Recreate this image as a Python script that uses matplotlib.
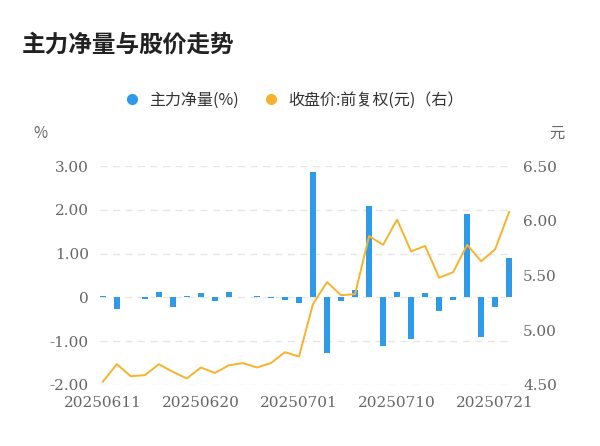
import matplotlib
matplotlib.use("Agg")
import matplotlib.pyplot as plt
from matplotlib.lines import Line2D

plt.rcParams["font.family"] = ["Noto Sans CJK SC", "Noto Sans CJK JP", "Noto Sans CJK TC", "Noto Sans CJK KR", "DejaVu Sans"]

dates = ["20250611","20250612","20250613","20250616","20250617","20250618","20250619","20250620",
         "20250623","20250624","20250625","20250626","20250627","20250630","20250701","20250702",
         "20250703","20250704","20250707","20250708","20250709","20250710","20250711","20250714",
         "20250715","20250716","20250717","20250718","20250721","20250722"]
net_flow = [0.03,-0.26,0.02,-0.03,0.12,-0.22,0.03,0.1,-0.08,0.13,0.01,0.03,-0.01,-0.05,-0.12,
            2.87,-1.27,-0.08,0.17,2.08,-1.1,0.13,-0.95,0.11,-0.32,-0.05,1.9,-0.9,-0.22,0.89]
price = [4.53,4.69,4.58,4.59,4.69,4.62,4.56,4.66,4.61,4.68,4.70,4.66,4.70,4.80,4.76,
         5.24,5.44,5.32,5.33,5.86,5.78,6.01,5.72,5.77,5.48,5.53,5.78,5.63,5.74,6.08]
left_ticks = [3.0,2.0,1.0,0.0,-1.0,-2.0]
left_labels = ["3.00","2.00","1.00","0","-1.00","-2.00"]
right_ticks = [6.5,6.0,5.5,5.0,4.5]
right_labels = ["6.50","6.00","5.50","5.00","4.50"]
tick_idx = [0,7,14,21,28]

blue = "#2f9ae8"; gold = "#f7b32b"; gray = "#666666"
fig = plt.figure(figsize=(6.0,4.46), dpi=100)
ax = fig.add_axes([100/600, 61/446, 412/600, 219/446])
x = list(range(len(dates)))
ax.bar(x, net_flow, width=0.42, color=blue, zorder=3)
ax.set_xlim(-0.2, 29.2)
ax.set_ylim(-2, 3)
ax.set_yticks(left_ticks); ax.set_yticklabels(left_labels, color=gray, fontsize=11, fontfamily="DejaVu Serif")
ax.set_xticks(tick_idx); ax.set_xticklabels([dates[i] for i in tick_idx], color=gray, fontsize=11, fontfamily="DejaVu Serif")
for t in left_ticks:
    ax.axhline(t, color="#e6e6e6", lw=1, ls=(0,(5,4)), zorder=0)
for s in ax.spines.values(): s.set_visible(False)
ax.tick_params(length=0, pad=8)

ax2 = ax.twinx()
ax2.plot(x, price, color=gold, lw=1.4, zorder=4)
ax2.set_ylim(4.5, 6.5)
ax2.set_yticks(right_ticks); ax2.set_yticklabels(right_labels, color=gray, fontsize=11, fontfamily="DejaVu Serif")
for s in ax2.spines.values(): s.set_visible(False)
ax2.tick_params(length=0, pad=8)

fig.text(22/600, 1-45/446, "主力净量与股价走势", fontsize=17, fontweight="bold", va="center", color="#222222")
fig.text(40/600, 1-133/446, "%", fontsize=11, color=gray, va="center", ha="center")
fig.text(557/600, 1-133/446, "元", fontsize=11, color=gray, va="center", ha="center")
handles = [Line2D([],[],marker="o",ls="",color=blue,markersize=7),
           Line2D([],[],marker="o",ls="",color=gold,markersize=7)]
fig.legend(handles, ["主力净量(%)","收盘价:前复权(元)（右）"], loc="center", bbox_to_anchor=(290/600, 1-100/446),
           ncol=2, frameon=False, fontsize=11.5, handletextpad=0.1, columnspacing=1.0, labelcolor="#333333")
fig.savefig("out.png", dpi=100)
